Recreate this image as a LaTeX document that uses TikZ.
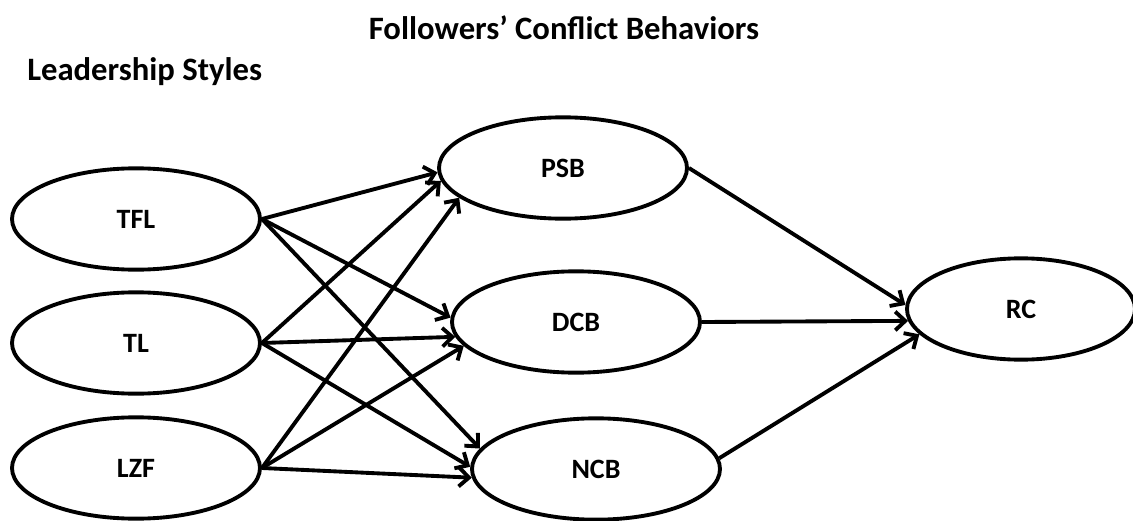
\documentclass[tikz,border=0pt]{standalone}
\usepackage{fontspec}
\setmainfont{Carlito}
\usetikzlibrary{shapes.geometric,arrows.meta}

\begin{document}
\begin{tikzpicture}[x=0.75pt,y=-0.75pt]

\tikzset{var/.style={draw,ellipse,line width=2.9pt,minimum width=186pt,
  minimum height=76pt,inner sep=0pt,font=\fontsize{21}{24}\selectfont\bfseries}}
\tikzset{path/.style={line width=2.9pt,-{Straight Barb[length=7.5pt,width=14pt]}}}
\tikzset{heading/.style={font=\fontsize{24.5}{28}\selectfont\bfseries,inner sep=0pt}}

\useasboundingbox (0,0) rectangle (1133,521);

\node[heading] (fcb) at (564,28) {Followers’ Conflict Behaviors};
\node[heading,anchor=west] (ls) at (27,72) {Leadership Styles};

\node[var] (tfl) at (136,219) {TFL};
\node[var] (tl)  at (136,343) {TL};
\node[var] (lzf) at (136,468) {LZF};

\node[var] (psb) at (563,168) {PSB};
\node[var] (dcb) at (576,322) {DCB};
\node[var] (ncb) at (596,469) {NCB};

\node[var,minimum width=171pt] (rc) at (1021,309) {RC};

\draw[path] (tfl.east) -- (psb.182);
\draw[path] (tfl.east) -- (dcb.178);
\draw[path] (tfl.east) -- (ncb.170);
\draw[path] (tl.east)  -- (psb.186);
\draw[path] (tl.east)  -- (dcb.187);
\draw[path] (tl.east)  -- (ncb.179);
\draw[path] (lzf.east) -- (psb.196);
\draw[path] (lzf.east) -- (dcb.192);
\draw[path] (lzf.east) -- (ncb.184);

\draw[path] (psb.east) -- (rc.178);
\draw[path] (dcb.east) -- (rc.186);
\draw[path] (ncb.5)    -- (rc.194);

\end{tikzpicture}
\end{document}
